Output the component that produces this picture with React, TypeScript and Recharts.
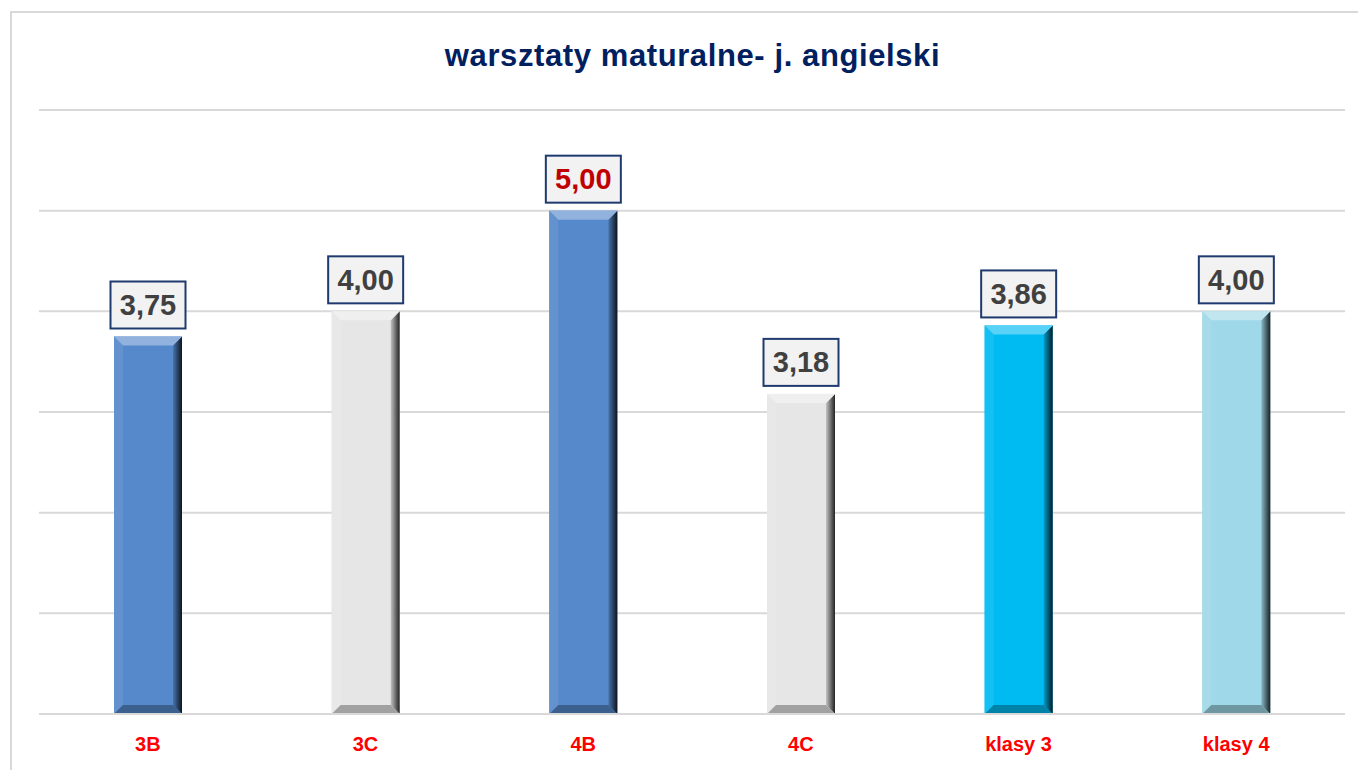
import React from 'react';
import { BarChart, Bar, XAxis, YAxis, CartesianGrid, Cell, LabelList } from 'recharts';

const categories = ['3B', '3C', '4B', '4C', 'klasy 3', 'klasy 4'];
const values = [3.75, 4.0, 5.0, 3.18, 3.86, 4.0];
const barColors = ['#5589CB', '#E6E6E6', '#5589CB', '#E6E6E6', '#00BAF2', '#9FD8E8'];
const labelColors = ['#404040', '#404040', '#C00000', '#404040', '#404040', '#404040'];
const yTicks = [0, 1, 2, 3, 4, 5, 6];

const data = categories.map((name, i) => ({ name, value: values[i], idx: i }));

const FONT = '"Liberation Sans", Arial, sans-serif';

// blend a hex colour toward another one
const mix = (a: string, b: string, t: number) => {
  const p = (h: string) => [1, 3, 5].map(k => parseInt(h.slice(k, k + 2), 16));
  const ca = p(a), cb = p(b);
  const c = ca.map((v, i) => Math.round(v + (cb[i] - v) * t));
  return `rgb(${c[0]},${c[1]},${c[2]})`;
};

const BevelBar = (props: any) => {
  const { x, y, width: w, height: h, fill, index } = props;
  if (!h || h <= 0) return null;
  const b = 9;
  const id = `rg${index}`;
  return (
    <g>
      <defs>
        <linearGradient id={id} x1="0" y1="0" x2="1" y2="0">
          <stop offset="0" stopColor={mix(fill, '#000000', 0.15)} />
          <stop offset="1" stopColor={mix(fill, '#000000', 0.85)} />
        </linearGradient>
      </defs>
      <rect x={x} y={y} width={w} height={h} fill={fill} />
      <polygon points={`${x},${y} ${x + b},${y + b} ${x + b},${y + h - b} ${x},${y + h}`} fill={mix(fill, '#ffffff', 0.08)} />
      <polygon points={`${x + w},${y} ${x + w - b},${y + b} ${x + w - b},${y + h - b} ${x + w},${y + h}`} fill={`url(#${id})`} />
      <polygon points={`${x},${y} ${x + w},${y} ${x + w - b},${y + b} ${x + b},${y + b}`} fill={mix(fill, '#ffffff', 0.35)} />
      <polygon points={`${x},${y + h} ${x + w},${y + h} ${x + w - b},${y + h - b} ${x + b},${y + h - b}`} fill={mix(fill, '#000000', 0.3)} />
    </g>
  );
};

const ValueBox = (props: any) => {
  const { x, y, width, value, index } = props;
  const cx = x + width / 2;
  const txt = Number(value).toFixed(2).replace('.', ',');
  const bw = 75;
  const bh = 47;
  const top = y - 8 - bh;
  return (
    <g>
      <rect x={cx - bw / 2} y={top} width={bw} height={bh} fill="#F2F2F2" stroke="#1F3A6E" strokeWidth={2} />
      <text x={cx} y={top + bh / 2 + 10} textAnchor="middle" fontFamily={FONT} fontWeight="bold" fontSize={29} fill={labelColors[index]}>
        {txt}
      </text>
    </g>
  );
};

export default function App() {
  return (
    <div style={{ position: 'absolute', left: 0, top: 0, width: 1358, height: 770, overflow: 'hidden', background: '#fff' }}>
      <div style={{ position: 'absolute', left: 10, top: 11, width: 1400, height: 800, border: '2px solid #D9D9D9', boxSizing: 'border-box' }} />
      <div style={{ position: 'absolute', left: 0, top: 38, width: 1385, textAlign: 'center', fontFamily: FONT, fontWeight: 'bold', fontSize: 31, letterSpacing: 0.6, color: '#002060' }}>
        warsztaty maturalne- j. angielski
      </div>
      <div style={{ position: 'absolute', left: 0, top: 0 }}>
        <BarChart width={1358} height={770} data={data} margin={{ top: 110, right: 13, bottom: 16, left: 39 }}>
          <CartesianGrid vertical={false} stroke="#D9D9D9" strokeWidth={2} />
          <YAxis hide domain={[0, 6]} ticks={yTicks} width={0} />
          <XAxis
            dataKey="name"
            height={40}
            axisLine={{ stroke: '#D9D9D9', strokeWidth: 2 }}
            tickLine={false}
            tick={{ fill: '#FF0000', fontFamily: FONT, fontWeight: 'bold', fontSize: 20 }}
            tickMargin={17}
          />
          <Bar dataKey="value" barSize={68} isAnimationActive={false} shape={BevelBar}>
            {data.map((d, i) => (
              <Cell key={d.name} fill={barColors[i]} />
            ))}
            <LabelList dataKey="value" content={ValueBox} />
          </Bar>
        </BarChart>
      </div>
    </div>
  );
}
